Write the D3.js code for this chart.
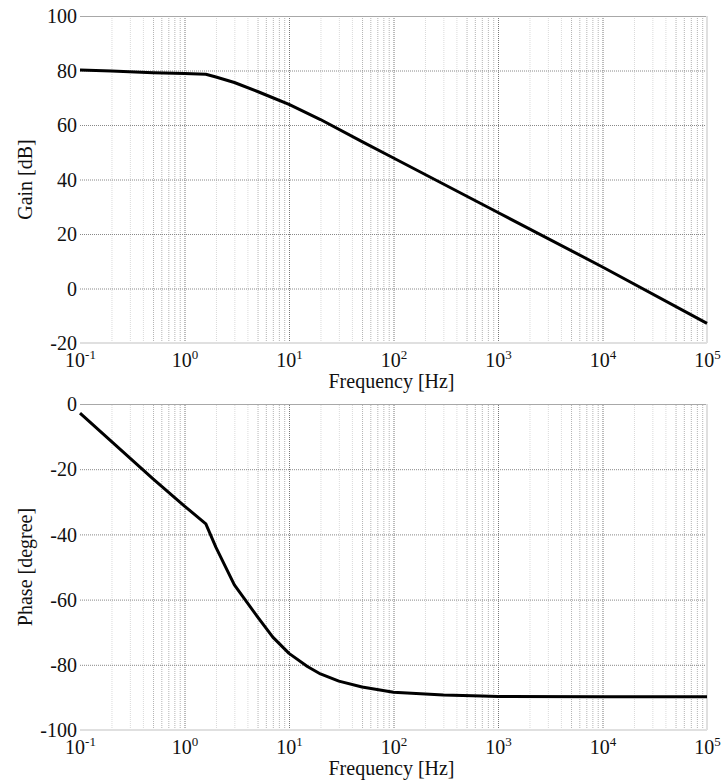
<!DOCTYPE html>
<html>
<head>
<meta charset="utf-8">
<script src="https://cdn.jsdelivr.net/npm/d3@7"></script>
<style>
  html, body { margin: 0; padding: 0; background: #fff; }
  svg { display: block; }
</style>
</head>
<body>
<svg id="chart" width="721" height="782"></svg>
<script>
// ---- data ----
const decadeTicks = [0.1, 1, 10, 100, 1000, 10000, 100000];
const decadeExponents = ["-1", "0", "1", "2", "3", "4", "5"];
const gainTicks = [-20, 0, 20, 40, 60, 80, 100];
const phaseTicks = [-100, -80, -60, -40, -20, 0];

const gainFreq = [0.1, 0.2, 0.5, 1, 1.6, 2, 3, 5, 7, 10, 20, 50, 100, 1000, 10000, 100000];
const gainDb   = [80.2, 79.8, 79.2, 78.9, 78.6, 77.6, 75.6, 72.3, 70.0, 67.6, 62.0, 53.9, 47.9, 27.9, 7.9, -12.8];

const phaseFreq = [0.1, 0.5, 1, 1.6, 2, 3, 5, 7, 10, 15, 20, 30, 50, 100, 300, 700, 1000, 10000, 100000];
const phaseDeg  = [-2.8, -23, -31.3, -36.8, -44, -55.5, -65.3, -71.5, -76.5, -80.5, -82.8, -85.0, -86.8, -88.4, -89.3, -89.6, -89.7, -89.8, -89.8];

// ---- layout ----
const FONT = "'Liberation Serif', 'Times New Roman', Times, serif";
const svg = d3.select("#chart").style("font-family", FONT);
const left = 80, right = 707;
const panels = [
  { top: 16, bottom: 343, domain: [-20, 100], ticks: gainTicks, label: "Gain [dB]", xs: gainFreq, ys: gainDb },
  { top: 404, bottom: 730, domain: [-100, 0], ticks: phaseTicks, label: "Phase [degree]", xs: phaseFreq, ys: phaseDeg }
];

const x = d3.scaleLog().domain([0.1, 1e5]).range([left, right]);

// minor ticks 2..9 within each decade
const minorTicks = [];
for (let e = -1; e < 5; e++) {
  for (let m = 2; m <= 9; m++) minorTicks.push(m * Math.pow(10, e));
}

panels.forEach(p => {
  const y = d3.scaleLinear().domain(p.domain).range([p.bottom, p.top]);
  const h = p.bottom - p.top;
  const g = svg.append("g");

  // minor vertical grid
  g.append("g")
    .attr("transform", `translate(0,${p.bottom})`)
    .call(d3.axisBottom(x).tickValues(minorTicks).tickSize(-h).tickFormat(""))
    .call(s => s.select(".domain").remove())
    .call(s => s.selectAll("line")
      .attr("stroke", (d) => {
        const m = Math.round(d / Math.pow(10, Math.floor(Math.log10(d) + 1e-9)));
        return m >= 5 ? "#b4b4b4" : "#dadada";
      })
      .attr("stroke-dasharray", "1,1")
      .attr("stroke-width", 1));

  // major vertical grid
  g.append("g")
    .attr("transform", `translate(0,${p.bottom})`)
    .call(d3.axisBottom(x).tickValues(decadeTicks.slice(1, -1)).tickSize(-h).tickFormat(""))
    .call(s => s.select(".domain").remove())
    .call(s => s.selectAll("line")
      .attr("stroke", "#777")
      .attr("stroke-dasharray", "1,1")
      .attr("stroke-width", 1));

  // horizontal grid
  g.append("g")
    .attr("transform", `translate(${left},0)`)
    .call(d3.axisLeft(y).tickValues(p.ticks.slice(1, -1)).tickSize(-(right - left)).tickFormat(""))
    .call(s => s.select(".domain").remove())
    .call(s => s.selectAll("line")
      .attr("stroke", "#888")
      .attr("stroke-dasharray", "1,1")
      .attr("stroke-width", 1));

  // frame
  g.append("line").attr("x1", left).attr("x2", right).attr("y1", p.top + 0.5).attr("y2", p.top + 0.5)
    .attr("stroke", "#a8a8a8").attr("stroke-width", 1);
  g.append("line").attr("x1", left).attr("x2", right).attr("y1", p.bottom).attr("y2", p.bottom)
    .attr("stroke", "#e0e0e0").attr("stroke-width", 2);
  g.append("line").attr("x1", right).attr("x2", right).attr("y1", p.top).attr("y2", p.bottom)
    .attr("stroke", "#e0e0e0").attr("stroke-width", 2);

  // y tick labels
  const ya = g.append("g")
    .attr("transform", `translate(${left},0)`)
    .call(d3.axisLeft(y).tickValues(p.ticks).tickSize(0).tickPadding(3).tickFormat(d => String(d)));
  ya.select(".domain").remove();
  ya.attr("font-family", null).attr("font-size", null);
  ya.selectAll("text")
    .style("font-family", FONT)
    .style("font-size", "20px")
    .attr("fill", "#111")
    .attr("dy", "0.33em");

  // x tick labels with superscripts
  const xa = g.append("g")
    .attr("transform", `translate(0,${p.bottom})`)
    .call(d3.axisBottom(x).tickValues(decadeTicks).tickSize(0).tickFormat(""));
  xa.select(".domain").remove();
  xa.attr("font-family", null).attr("font-size", null);
  xa.selectAll(".tick text").remove();
  xa.selectAll(".tick").each(function(d, i) {
    const t = d3.select(this).append("text")
      .attr("y", 24)
      .attr("text-anchor", "middle")
      .style("font-size", "20px")
      .style("font-family", FONT)
      .attr("fill", "#111");
    t.append("tspan").text("10");
    t.append("tspan").style("font-size", "13px").attr("dy", -8).text(decadeExponents[i]);
  });

  // x axis title
  g.append("text")
    .attr("x", (left + right) / 2 - 2)
    .attr("y", p.bottom + 45)
    .attr("text-anchor", "middle")
    .style("font-size", "20px")
    .style("font-family", FONT)
    .attr("fill", "#111")
    .text("Frequency [Hz]");

  // y axis title
  g.append("text")
    .attr("transform", `translate(32,${(p.top + p.bottom) / 2}) rotate(-90)`)
    .attr("text-anchor", "middle")
    .style("font-size", "20px")
    .style("font-family", FONT)
    .attr("fill", "#111")
    .text(p.label);

  // data line
  const pts = p.xs.map((f, i) => [f, p.ys[i]]);
  g.append("path")
    .datum(pts)
    .attr("fill", "none")
    .attr("stroke", "#000")
    .attr("stroke-width", 3)
    .attr("stroke-linejoin", "round")
    .attr("d", d3.line().x(d => x(d[0])).y(d => y(d[1])));
});
</script>
</body>
</html>
